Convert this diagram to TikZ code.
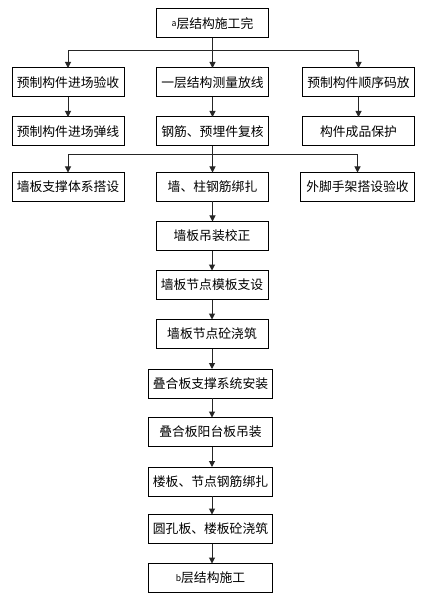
\documentclass[tikz,border=0pt]{standalone}
\usepackage{fontspec}
\setmainfont{Noto Sans CJK SC}
\usetikzlibrary{arrows.meta}
\begin{document}
\begin{tikzpicture}[x=0.75pt,y=-0.75pt,
  box/.style={draw=black,line width=0.75pt,fill=white,minimum height=21.75pt,inner sep=0pt,outer sep=0pt,font=\fontsize{9.6}{11}\selectfont,text=black},
  w112/.style={minimum width=84pt},
  w124/.style={minimum width=93pt},
  conn/.style={draw=black!85,line width=0.75pt,-{Triangle[width=4.5pt,length=4.5pt]}},
  plain/.style={draw=black!85,line width=0.75pt}]
\useasboundingbox[fill=white] (0,0) rectangle (424,598);
\newcommand{\smallletter}[1]{\raisebox{1.2pt}{\fontsize{6.5}{6.5}\selectfont #1}}
% top
\node[box,w112] (top) at (212.5,23.5) {\smallletter{a}层结构施工完};
% row 1
\node[box,w112] (l1) at (68,82.5) {预制构件进场验收};
\node[box,w112] (m1) at (212.5,82.5) {一层结构测量放线};
\node[box,w112] (r1) at (358.5,82.5) {预制构件顺序码放};
% row 2
\node[box,w112] (l2) at (68,131.5) {预制构件进场弹线};
\node[box,w112] (m2) at (212.5,131.5) {钢筋、预埋件复核};
\node[box,w112] (r2) at (358.5,131.5) {构件成品保护};
% row 3
\node[box,w112] (l3) at (68,187) {墙板支撑体系搭设};
\node[box,w112] (m3) at (212.5,187) {墙、柱钢筋绑扎};
\node[box,minimum width=86pt] (r3) at (357.5,187) {外脚手架搭设验收};
% middle column
\node[box,w112] (m4) at (212,236) {墙板吊装校正};
\node[box,w112] (m5) at (212,285) {墙板节点模板支设};
\node[box,w112] (m6) at (212,334) {墙板节点砼浇筑};
\node[box,w124] (m7) at (210.5,383.5) {叠合板支撑系统安装};
\node[box,w124] (m8) at (210.5,432) {叠合板阳台板吊装};
\node[box,w124] (m9) at (210.5,481.5) {楼板、节点钢筋绑扎};
\node[box,w124] (m10) at (210.5,529) {圆孔板、楼板砼浇筑};
\node[box,w124] (m11) at (210.5,578) {\smallletter{b}层结构施工};
% branch 1
\draw[plain] (top.south) -- (top.south |- 0,51);
\draw[conn] (top.south |- 0,51) -| (l1.north);
\draw[conn] (top.south |- 0,51) -| (r1.north);
\draw[conn] (top.south) -- (m1.north);
\draw[conn] (l1) -- (l2);
\draw[conn] (m1) -- (m2);
\draw[conn] (r1) -- (r2);
% branch 2
\draw[conn] (m2.south) -- (m3.north);
\draw[conn] (m2.south |- 0,155) -| (l3.north);
\draw[conn] (m2.south |- 0,155) -| (r3.north);
% chain
\draw[conn] (m3.south) -- (m3.south |- m4.north);
\draw[conn] (m4.south) -- (m4.south |- m5.north);
\draw[conn] (m5.south) -- (m5.south |- m6.north);
\draw[conn] (m6.south) -- (m6.south |- m7.north);
\draw[conn] (m6.south |- m7.south) -- (m6.south |- m8.north);
\draw[conn] (m6.south |- m8.south) -- (m6.south |- m9.north);
\draw[conn] (m6.south |- m9.south) -- (m6.south |- m10.north);
\draw[conn] (m6.south |- m10.south) -- (m6.south |- m11.north);
\end{tikzpicture}
\end{document}
